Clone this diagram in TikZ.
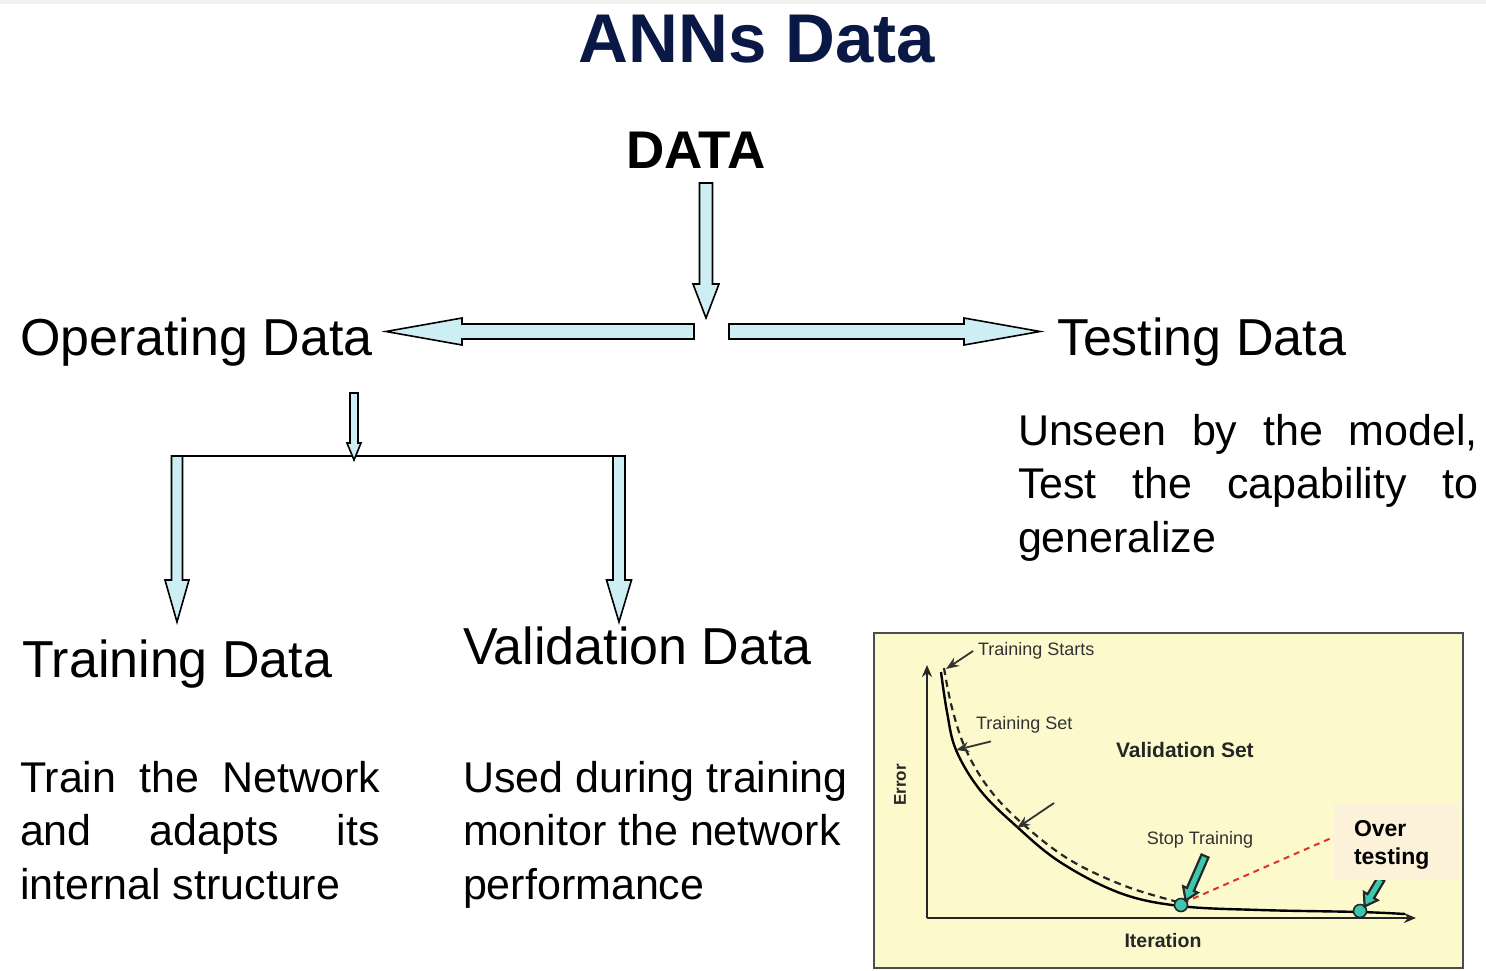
\documentclass[tikz,border=0pt]{standalone}
\usepackage{fontspec}
\setmainfont{Liberation Sans}
\usetikzlibrary{calc,arrows.meta}

\definecolor{navy}{RGB}{10,24,70}
\definecolor{arrowfill}{RGB}{205,238,242}
\definecolor{chartbg}{RGB}{252,250,205}
\definecolor{notefill}{RGB}{252,242,218}
\definecolor{tealpt}{RGB}{60,200,175}
\definecolor{redline}{RGB}{225,50,40}
\definecolor{chartink}{RGB}{50,50,50}
\definecolor{topband}{RGB}{240,240,238}

% block arrow: [style] from, to, half shaft width, half head width, head length
\newcommand\blockarr[6][]{%
  \coordinate (ba-h) at ($(#3)!#6!(#2)$);
  \path[blockarrow,#1] ($(#2)!#4!90:(#3)$) -- ($(ba-h)!#4!90:(#3)$)
    -- ($(ba-h)!#5!90:(#3)$) -- (#3) -- ($(ba-h)!#5!-90:(#3)$)
    -- ($(ba-h)!#4!-90:(#3)$) -- ($(#2)!#4!-90:(#3)$) -- cycle;
}

\tikzset{
  every node/.style={inner sep=0pt, outer sep=0pt},
  blockarrow/.style={draw=black, line width=1.6pt, fill=arrowfill, line join=miter},
  tealarrow/.style={draw=black!85, line width=2.2pt, fill=tealpt},
  heading/.style={font=\fontsize{52}{60}\selectfont},
  body/.style={font=\fontsize{43}{53.5}\selectfont},
  chartlbl/.style={font=\fontsize{18}{21}\selectfont, text=chartink},
  chartbold/.style={font=\fontsize{19}{22}\selectfont\bfseries, text=black!85},
  note/.style={draw=black!80, line width=1.8pt, -{Stealth[length=13pt,width=10pt]}},
  axis/.style={draw=black!85, line width=2.2pt, -{Stealth[length=12pt,width=10pt]}},
  stoppt/.style={circle, draw=black!85, line width=1.6pt, fill=tealpt, minimum size=13pt},
}

\begin{document}
\begin{tikzpicture}[x=1pt,y=-1pt]
\useasboundingbox (0,0) rectangle (1486,970);
\fill[topband] (0,0) rectangle (1486,4);

% ---- titles ----
\node[anchor=base, font=\fontsize{69}{80}\selectfont\bfseries, text=navy] (title) at (757,62) {ANNs Data};
\node[anchor=base, font=\fontsize{53}{60}\selectfont\bfseries] (data) at (696,168) {DATA};

\node[anchor=base west, heading] (oper) at (20,355) {Operating Data};
\node[anchor=base west, heading] (test) at (1057,355) {Testing Data};
\node[anchor=base west, heading] (train) at (22,677) {Training Data};
\node[anchor=base west, heading] (valid) at (463,664) {Validation Data};

% ---- descriptions ----
\node[anchor=base west, body] (traintxt) at (20,792) {\parbox[t]{360pt}{%
  \makebox[360pt][s]{Train the Network}\\
  \makebox[360pt][s]{and adapts its}\\
  internal structure}};
\node[anchor=base west, body] (validtxt) at (463,792) {\parbox[t]{400pt}{%
  Used during training\\
  monitor the network\\
  performance}};
\node[anchor=base west, body] (testtxt) at (1018,445) {\parbox[t]{460pt}{%
  \makebox[460pt][s]{Unseen by the model,}\\
  \makebox[460pt][s]{Test the capability to}\\
  generalize}};

% ---- data split arrows ----
\coordinate (d-top) at (706,183);
\coordinate (d-tip) at (706,318);
\blockarr{d-top}{d-tip}{6.5pt}{13pt}{34pt}
\coordinate (l-tail) at (694,331.5);
\coordinate (l-tip) at (386,331.5);
\blockarr{l-tail}{l-tip}{7.5pt}{13.5pt}{76pt}
\coordinate (r-tail) at (729,331.5);
\coordinate (r-tip) at (1040,331.5);
\blockarr{r-tail}{r-tip}{7.5pt}{13.5pt}{76pt}

% ---- operating data split ----
\coordinate (o-top) at (354,393);
\coordinate (o-tip) at (354,460);
\coordinate (bl) at (177,456);
\coordinate (br) at (619,456);
\draw[black, line width=2.4pt] (bl) -- (br);
\blockarr{o-top}{o-tip}{4pt}{7pt}{17pt}
\coordinate (bl-tip) at (177,622);
\coordinate (br-tip) at (619,622);
\blockarr{bl}{bl-tip}{5.5pt}{12pt}{42pt}
\blockarr{br}{br-tip}{6pt}{12.5pt}{42pt}

% ---- error curve chart ----
\draw[draw=black!70, line width=2pt, fill=chartbg] (874,633) rectangle (1463,968);
\coordinate (origin) at (927,918);
\coordinate (ytop) at (927,665);
\coordinate (xend) at (1416,918);
\draw[axis] (origin) -- (ytop);
\draw[axis] (origin) -- (xend);

% training-set error (solid)
\draw[black, line width=2.4pt] plot[smooth, tension=0.6] coordinates {
  (941,672) (947,712) (956,750) (980,790) (1015,825) (1060,862)
  (1120,893) (1180,906) (1260,910) (1360,912) (1405,914)};
% validation-set error (dashed)
\draw[black!85, line width=2.2pt, dash pattern=on 7pt off 5pt] plot[smooth, tension=0.6] coordinates {
  (944,668) (952,708) (966,750) (990,790) (1024,825) (1070,860)
  (1125,886) (1178,902)};
% rising validation error after the stopping point
\draw[redline, line width=2pt, dash pattern=on 6pt off 5pt] (1183,903) -- (1345,832);

\node[chartlbl, anchor=west] (starts) at (978,651) {Training Starts};
\node[chartlbl, anchor=west] (tset) at (976,725) {Training Set};
\node[chartbold, font=\fontsize{21}{23}\selectfont\bfseries, anchor=west] (vset) at (1116,750) {Validation Set};
\node[chartlbl, anchor=center] (stoplbl) at (1200,840) {Stop Training};
\node[chartbold, font=\fontsize{19.5}{22}\selectfont\bfseries, anchor=center] (iter) at (1163,941) {Iteration};
\node[chartbold, font=\fontsize{17}{19}\selectfont\bfseries, rotate=90, anchor=center] (err) at (900,785) {Error};

\coordinate (c-start) at (946,669);
\coordinate (c-train) at (956,750);
\coordinate (c-valid) at (1017,828);
\coordinate (n-valid) at (1054,803);
\draw[note] ($(starts.west)+(-5,0)$) -- (c-start);
\draw[note] ($(tset.south west)+(15,8)$) -- (c-train);
\draw[note] (n-valid) -- (c-valid);

% stopping points with pointers
\node[stoppt] (stop) at (1181,905) {};
\node[stoppt] (over-pt) at (1360,911) {};
\coordinate (p1) at (1205,856);
\coordinate (p2) at (1381,879);
\blockarr[tealarrow]{p1}{stop.north east}{3.8pt}{8pt}{12pt}
\blockarr[tealarrow]{p2}{over-pt.north east}{3.8pt}{8pt}{12pt}

% over-testing note
\fill[notefill] (1334,803) rectangle (1459,880);
\node[anchor=base west, font=\fontsize{23}{28}\selectfont\bfseries] (overtxt) at (1354,836)
  {\parbox[t]{100pt}{Over\\testing}};
\end{tikzpicture}
\end{document}
